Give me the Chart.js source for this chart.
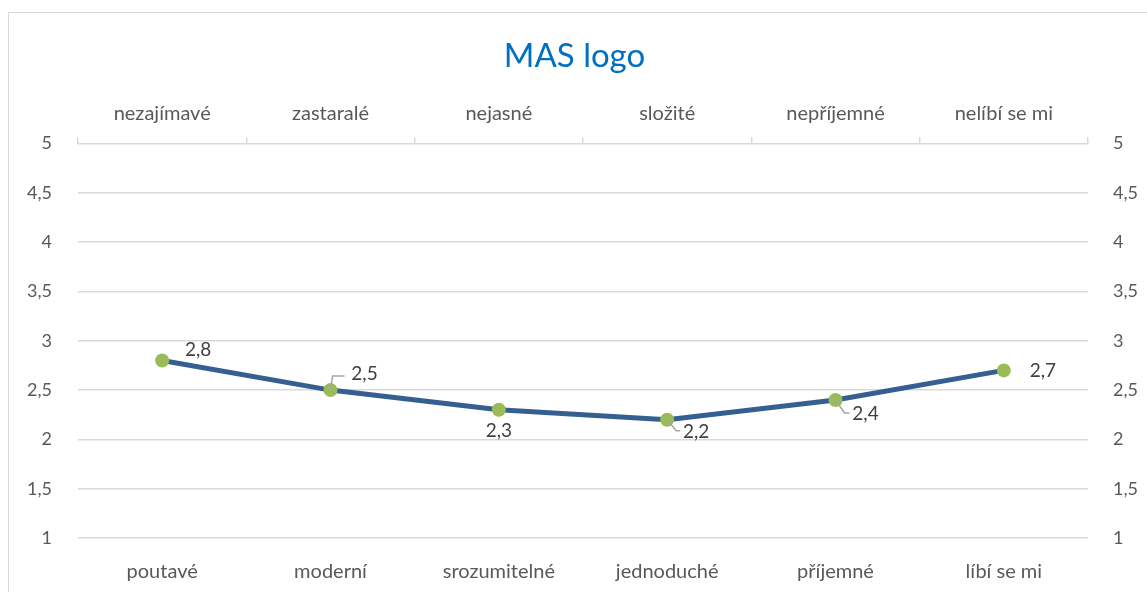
<!DOCTYPE html>
<html>
<head>
<meta charset="utf-8">
<script src="https://cdn.jsdelivr.net/npm/chart.js@4.4.0/dist/chart.umd.min.js"></script>
<style>
  html, body { margin: 0; padding: 0; background: #fff; }
  #wrap { width: 1147px; height: 592px; }
</style>
</head>
<body>
<div id="wrap"><canvas id="chart" width="1147" height="592"></canvas></div>
<script>
// Data
const bottomLabels = ['poutavé', 'moderní', 'srozumitelné', 'jednoduché', 'příjemné', 'líbí se mi'];
const topLabels = ['nezajímavé', 'zastaralé', 'nejasné', 'složité', 'nepříjemné', 'nelíbí se mi'];
const scores = [2.8, 2.5, 2.3, 2.2, 2.4, 2.7];
const yTicks = [1, 1.5, 2, 2.5, 3, 3.5, 4, 4.5, 5];

const FONT = 'Lato, "Open Sans", sans-serif';
const TEXT = '#595959';
const GRID = '#d9d9d9';

// label placement around each point: [dx, dy, leader style]
const labelPlacement = [
  { dx: 36, dy: -11, leader: null },
  { dx: 34, dy: -16, leader: 'up' },
  { dx: 0, dy: 21, leader: null },
  { dx: 29, dy: 12, leader: 'down' },
  { dx: 30, dy: 14, leader: 'down' },
  { dx: 39, dy: 0, leader: null }
];

const fmt = v => String(v).replace('.', ',');

const frame = {
  id: 'frame',
  beforeDraw(chart) {
    const ctx = chart.ctx;
    ctx.save();
    ctx.strokeStyle = GRID;
    ctx.lineWidth = 1;
    ctx.strokeRect(8.5, 12.5, 1400, 800);
    ctx.restore();
  }
};

const pointLabels = {
  id: 'pointLabels',
  afterDatasetsDraw(chart) {
    const ctx = chart.ctx;
    const meta = chart.getDatasetMeta(0);
    ctx.save();
    meta.data.forEach((pt, i) => {
      const p = labelPlacement[i];
      const tx = pt.x + p.dx, ty = pt.y + p.dy;
      if (p.leader) {
        ctx.strokeStyle = '#a6a6a6';
        ctx.lineWidth = 1.5;
        ctx.beginPath();
        if (p.leader === 'up') {
          ctx.moveTo(pt.x, pt.y);
          ctx.lineTo(pt.x + 2, ty + 2);
          ctx.lineTo(tx - 20, ty + 2);
        } else {
          ctx.moveTo(pt.x, pt.y);
          ctx.lineTo(pt.x + 9, ty - 1);
          ctx.lineTo(tx - 16, ty - 1);
        }
        ctx.stroke();
      }
      ctx.fillStyle = '#404040';
      ctx.font = '19px ' + FONT;
      ctx.textAlign = 'center';
      ctx.textBaseline = 'middle';
      ctx.fillText(fmt(chart.data.datasets[0].data[i]), tx, ty);
    });
    ctx.restore();
  }
};

new Chart(document.getElementById('chart'), {
  type: 'line',
  data: {
    labels: bottomLabels,
    datasets: [{
      data: scores,
      xAxisID: 'x',
      yAxisID: 'y',
      borderColor: '#365f91',
      borderWidth: 5,
      tension: 0,
      pointRadius: 7,
      pointBackgroundColor: '#9bbb59',
      pointBorderColor: '#9bbb59',
      pointBorderWidth: 0
    }]
  },
  options: {
    responsive: false,
    animation: false,
    layout: { padding: { left: 10, right: 8, top: 0, bottom: 0 } },
    plugins: {
      legend: { display: false },
      tooltip: { enabled: false },
      title: {
        display: true,
        text: 'MAS logo',
        color: '#0070c0',
        font: { family: FONT, size: 33, weight: 'normal' },
        padding: { top: 37, bottom: 0 }
      }
    },
    scales: {
      x: {
        type: 'category',
        position: 'bottom',
        offset: true,
        grid: { display: false },
        border: { display: false },
        ticks: { color: TEXT, font: { family: FONT, size: 20 }, padding: 14, maxRotation: 0 },
        afterFit(s) { s.height = 54; }
      },
      xTop: {
        type: 'category',
        position: 'top',
        labels: topLabels,
        offset: true,
        grid: { drawOnChartArea: false, drawTicks: true, tickLength: 6, color: GRID, lineWidth: 1.5, offset: true },
        border: { display: false },
        ticks: { color: TEXT, font: { family: FONT, size: 20 }, padding: 12, maxRotation: 0 },
        afterFit(s) { s.height = 144 - 77; }
      },
      y: {
        position: 'left',
        min: 1,
        max: 5,
        afterBuildTicks(s) { s.ticks = yTicks.map(v => ({ value: v })); },
        grid: { color: GRID, lineWidth: 1.5, drawTicks: false },
        border: { display: false },
        ticks: { color: TEXT, font: { family: FONT, size: 18 }, padding: 26, callback: v => fmt(v) },
        afterFit(s) { s.width = 68; }
      },
      yRight: {
        position: 'right',
        min: 1,
        max: 5,
        afterBuildTicks(s) { s.ticks = yTicks.map(v => ({ value: v })); },
        grid: { drawOnChartArea: false, drawTicks: false },
        border: { display: false },
        ticks: { color: TEXT, font: { family: FONT, size: 18 }, padding: 25, callback: v => fmt(v) },
        afterFit(s) { s.width = 51; }
      }
    }
  },
  plugins: [frame, pointLabels]
});
</script>
</body>
</html>
